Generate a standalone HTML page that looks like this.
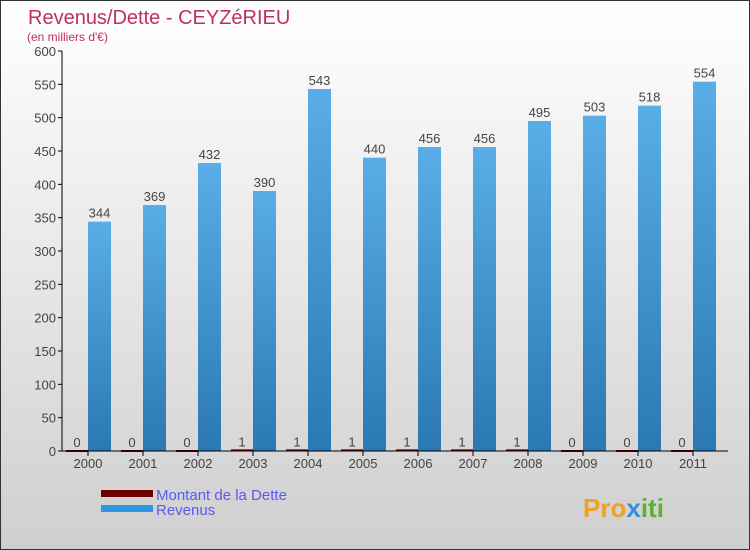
<!DOCTYPE html>
<html><head><meta charset="utf-8"><style>
body{margin:0}
#c{width:750px;height:550px;position:relative;overflow:hidden;box-sizing:border-box;border:1px solid #333;background:linear-gradient(#ffffff,#cfcfcf);font-family:"Liberation Sans","DejaVu Sans",sans-serif}
</style></head><body>
<div id="c">
<svg id="s" width="750" height="550">
<defs>
<linearGradient id="g" x1="0" y1="0" x2="0" y2="1"><stop offset="0" stop-color="#5aade6"/><stop offset="1" stop-color="#2a78b4"/></linearGradient>
</defs>
<text x="27" y="23" font-size="20" fill="#c0305f">Revenus/Dette - CEYZéRIEU</text>
<text x="26" y="40" font-size="12" fill="#c0305f">(en milliers d'€)</text>
<g id="plot"></g>
<rect x="100" y="489" width="52" height="7" fill="#6b0000"/>
<rect x="100" y="504" width="52" height="7" fill="#2e96e0"/>
<text x="155" y="499" font-size="15" fill="#5a5aee">Montant de la Dette</text>
<text x="155" y="514" font-size="15" fill="#5a5aee">Revenus</text>
<text x="582" y="516" font-size="26" font-weight="bold" fill="#f0a020">Pro<tspan fill="#3090e0">x</tspan><tspan fill="#60b030">iti</tspan></text>
</svg>
</div>
<script>
const years=["2000","2001","2002","2003","2004","2005","2006","2007","2008","2009","2010","2011"];
const dette=[0,0,0,1,1,1,1,1,1,0,0,0];
const revenus=[344,369,432,390,543,440,456,456,495,503,518,554];
const yTicks=[0,50,100,150,200,250,300,350,400,450,500,550,600];
const NS="http://www.w3.org/2000/svg";
const g=document.getElementById('plot');
const y0=450,yTop=50,vmax=600;
function y(v){return y0-(v/vmax)*(y0-yTop);}
function x(i){return 87+i*55;}
function mk(t,a,txt){const e=document.createElementNS(NS,t);for(const k in a)e.setAttribute(k,a[k]);if(txt!==undefined)e.textContent=txt;g.appendChild(e);return e;}
yTicks.forEach(v=>{
 const l=mk('line',{x1:57,x2:61,y1:y(v),y2:y(v),stroke:'#000'});
 
 
 const t=mk('text',{x:55,y:y(v)+5,'text-anchor':'end','font-size':13,fill:'#444'},String(v));
 
 
});
years.forEach((yr,i)=>{
 const cx=x(i);
 const db=mk('rect',{x:cx-22,y:y(dette[i])-1,width:22,height:Math.max(1,y0-y(dette[i]))+1,fill:'#6b0000'});
 
 
 const dl=mk('text',{x:cx-11,y:y(dette[i])-4,'text-anchor':'middle','font-size':13,fill:'#444'},String(dette[i]));
 
 
 const rb=mk('rect',{x:cx,y:y(revenus[i]),width:23,height:y0-y(revenus[i]),fill:'url(#g)'});
 
 
 const rl=mk('text',{x:cx+11.5,y:y(revenus[i])-4,'text-anchor':'middle','font-size':13,fill:'#444'},String(revenus[i]));
 
 
 const tk=mk('line',{x1:cx,x2:cx,y1:450,y2:455,stroke:'#000'});
 
 
 const xl=mk('text',{x:cx,y:467,'text-anchor':'middle','font-size':13,fill:'#444'},yr);
 
 
});
const ax=mk('line',{x1:61,x2:61,y1:50,y2:450,stroke:'#000'});


const bx=mk('line',{x1:61,x2:727,y1:450,y2:450,stroke:'#000'});


</script>
</body></html>
